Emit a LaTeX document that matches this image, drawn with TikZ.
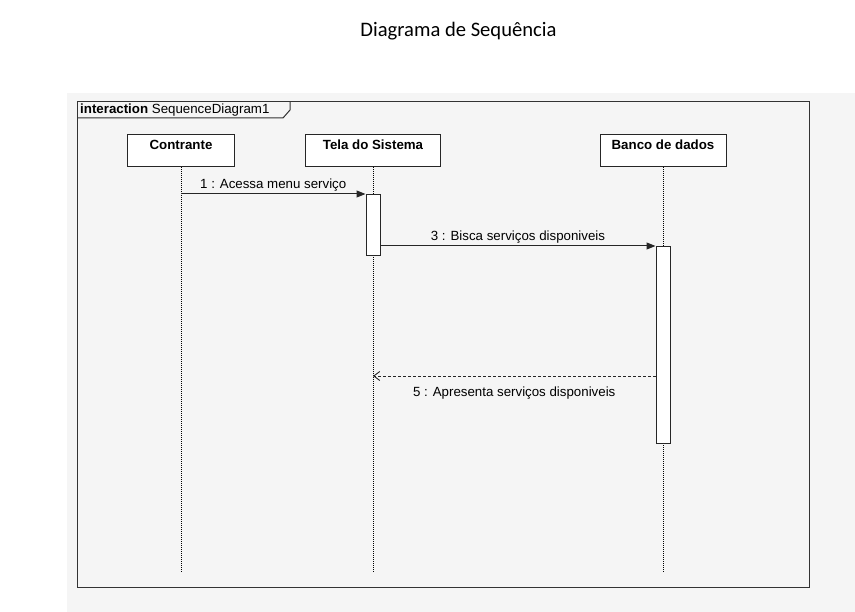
\documentclass[tikz,border=0pt]{standalone}
\usepackage{fontspec}
\setsansfont{Liberation Sans}
\newfontfamily\titlefont{Carlito}
\usetikzlibrary{arrows.meta}
\definecolor{wash}{HTML}{F5F5F5}
\tikzset{
	>={Triangle[length=9pt,width=7pt]},
	lifehead/.style={
		rectangle,
		draw=black!85, line width=1pt,
		fill=white,
		font=\sffamily\bfseries\fontsize{13.3}{15}\selectfont,
		minimum height=32pt,
		inner sep=2.5pt,
		text height=12.5pt,
		text depth=14.5pt,
		anchor=north},
	lifeline/.style={draw=black, densely dotted, line width=1pt},
	activation/.style={
		rectangle,
		draw=black!85, line width=1pt,
		fill=white,
		minimum width=14pt,
		inner sep=0pt,
		anchor=north},
	call/.style={draw=black!85, line width=1pt, ->},
	reply/.style={draw=black!85, line width=0.9pt, densely dashed, -{Straight Barb[length=6pt,width=9pt]}},
	msglabel/.style={midway, inner sep=2pt, text=black},
	frame/.style={draw=black!80, line width=1pt},
}

\begin{document}
\begin{tikzpicture}
		[x=1pt, y=-1pt, font=\sffamily\fontsize{13.3}{15}\selectfont]
		\useasboundingbox[fill=white] (0,0) rectangle (855,612);
		\fill[wash] (67,93) rectangle (855,612);
		% title
		\node[anchor=base, inner sep=0pt, font=\titlefont\fontsize{20.6}{24}\selectfont] (titel) at (458.5,37) {Diagrama de Sequência};
		% frame
		\draw[frame] (77,102) rectangle (809,587);
		\draw[frame] (77,118) -- (283,118) -- (290,110) -- (290,102);
		\node[anchor=base west, inner sep=0pt] (framelabel) at (80,114) {\textbf{interaction} SequenceDiagram1};
		% lifelines
		\coordinate (lifeend) at (0,572);
		\node[lifehead, minimum width=107pt] (contrante) at (181,134) {Contrante};
		\node[lifehead, minimum width=135pt] (tela) at (373,134) {Tela do Sistema};
		\node[lifehead, minimum width=126pt] (banco) at (663,134) {Banco de dados};
		\draw[lifeline] (contrante.south) -- (contrante.south |- lifeend);
		\draw[lifeline] (tela.south) -- (tela.south |- lifeend);
		\draw[lifeline] (banco.south) -- (banco.south |- lifeend);
		% activations
		\node[activation, minimum height=61pt] (acttela) at (373,194) {};
		\node[activation, minimum height=197pt] (actbanco) at (663,246) {};
		% messages
		\coordinate (ret) at (0,376);
		\draw[call] (contrante.south |- acttela.north) -- (acttela.north west)
			node[msglabel, above] {1 : Acessa menu serviço};
		\draw[call] (acttela.east |- actbanco.north) -- (actbanco.north west)
			node[msglabel, above] {3 : Bisca serviços disponiveis};
		\draw[reply] (actbanco.west |- ret) -- (tela.south |- ret)
			node[msglabel, below=8pt] {5 : Apresenta serviços disponiveis};
		\end{tikzpicture}
\end{document}
